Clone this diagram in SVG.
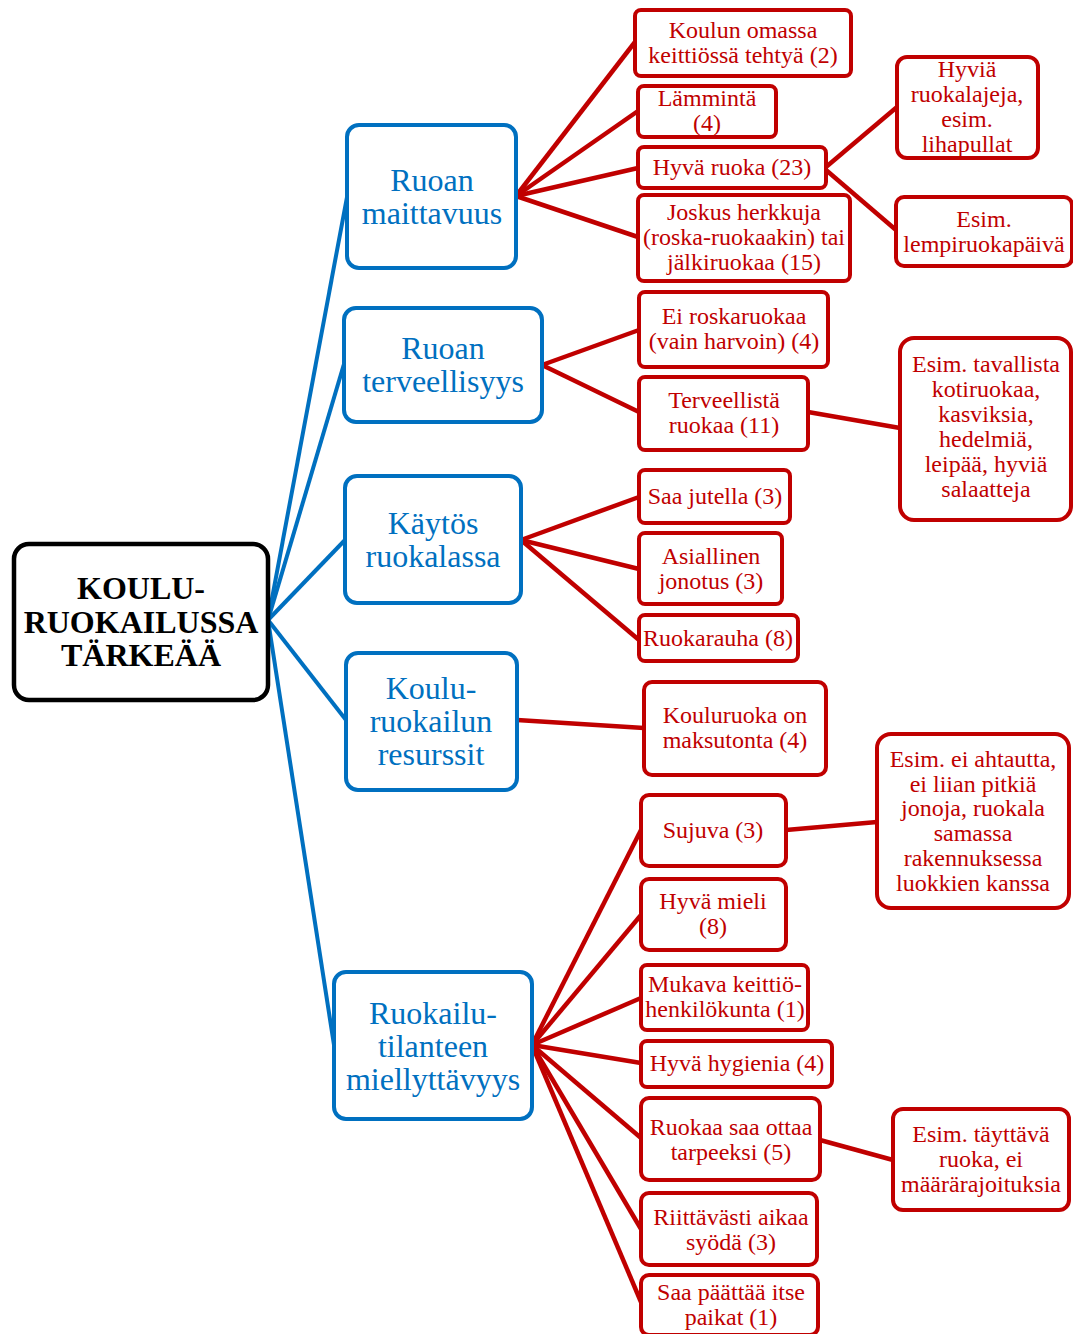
<svg xmlns="http://www.w3.org/2000/svg" width="1073" height="1334" viewBox="0 0 1073 1334">
<style>
.bg{fill:#fff}
.rb{fill:#fff;stroke:#000;stroke-width:4.5}
.bb{fill:#fff;stroke:#0070C0;stroke-width:4}
.cb{fill:#fff;stroke:#C00000;stroke-width:4}
.bl{stroke:#0070C0;stroke-width:4;fill:none}
.rl{stroke:#C00000;stroke-width:4.5;fill:none}
text{font-family:"Liberation Serif","Times New Roman",serif;text-anchor:middle}
.tr{font-size:32px;font-weight:bold;fill:#000}
.tb{font-size:32px;fill:#0070C0}
.tc{font-size:24px;fill:#C00000}
</style>
<rect class="bg" x="0" y="0" width="1073" height="1334"/>
<g id="connectors">
<line class="bl" x1="268" y1="620" x2="347" y2="197"/>
<line class="bl" x1="268" y1="620" x2="344" y2="364"/>
<line class="bl" x1="268" y1="620" x2="345" y2="540"/>
<line class="bl" x1="268" y1="620" x2="346" y2="720"/>
<line class="bl" x1="268" y1="620" x2="334" y2="1045"/>
<line class="rl" x1="516" y1="196" x2="635" y2="42"/>
<line class="rl" x1="516" y1="196" x2="638" y2="111"/>
<line class="rl" x1="516" y1="196" x2="638" y2="168"/>
<line class="rl" x1="516" y1="196" x2="638" y2="237"/>
<line class="rl" x1="826" y1="167" x2="897" y2="107"/>
<line class="rl" x1="826" y1="170" x2="896" y2="230"/>
<line class="rl" x1="542" y1="365" x2="639" y2="330"/>
<line class="rl" x1="542" y1="365" x2="639" y2="412"/>
<line class="rl" x1="808" y1="412" x2="900" y2="428"/>
<line class="rl" x1="521" y1="540" x2="639" y2="497"/>
<line class="rl" x1="521" y1="540" x2="639" y2="569"/>
<line class="rl" x1="521" y1="540" x2="639" y2="640"/>
<line class="rl" x1="517" y1="720" x2="644" y2="728"/>
<line class="rl" x1="532" y1="1045" x2="641" y2="830"/>
<line class="rl" x1="532" y1="1045" x2="641" y2="915"/>
<line class="rl" x1="532" y1="1045" x2="641" y2="998"/>
<line class="rl" x1="532" y1="1045" x2="641" y2="1063"/>
<line class="rl" x1="532" y1="1045" x2="641" y2="1138"/>
<line class="rl" x1="532" y1="1045" x2="641" y2="1229"/>
<line class="rl" x1="532" y1="1045" x2="641" y2="1302"/>
<line class="rl" x1="786" y1="830" x2="877" y2="822"/>
<line class="rl" x1="820" y1="1140" x2="893" y2="1160"/>
</g>
<g id="root">
<rect class="rb" x="14" y="544" width="254" height="156" rx="15"/>
<text class="tr" x="141" y="599">KOULU-</text>
<text class="tr" x="141" y="633">RUOKAILUSSA</text>
<text class="tr" x="141" y="666">TÄRKEÄÄ</text>
</g>
<g id="maittavuus">
<rect class="bb" x="347" y="125" width="169" height="143" rx="12"/>
<text class="tb" x="432" y="191">Ruoan</text>
<text class="tb" x="432" y="224">maittavuus</text>
</g>
<g id="terveellisyys">
<rect class="bb" x="344" y="308" width="198" height="114" rx="12"/>
<text class="tb" x="443" y="359">Ruoan</text>
<text class="tb" x="443" y="392">terveellisyys</text>
</g>
<g id="kaytos">
<rect class="bb" x="345" y="476" width="176" height="127" rx="12"/>
<text class="tb" x="433" y="534">Käytös</text>
<text class="tb" x="433" y="567">ruokalassa</text>
</g>
<g id="resurssit">
<rect class="bb" x="346" y="653" width="171" height="137" rx="12"/>
<text class="tb" x="431" y="699">Koulu-</text>
<text class="tb" x="431" y="732">ruokailun</text>
<text class="tb" x="431" y="765">resurssit</text>
</g>
<g id="miellyttavyys">
<rect class="bb" x="334" y="972" width="198" height="147" rx="12"/>
<text class="tb" x="433" y="1024">Ruokailu-</text>
<text class="tb" x="433" y="1057">tilanteen</text>
<text class="tb" x="433" y="1090">miellyttävyys</text>
</g>
<g id="koulun-omassa">
<rect class="cb" x="635" y="10" width="216" height="66" rx="6"/>
<text class="tc" x="743" y="38">Koulun omassa</text>
<text class="tc" x="743" y="63">keittiössä tehtyä (2)</text>
</g>
<g id="lammintä">
<rect class="cb" x="638" y="86" width="138" height="51" rx="6"/>
<text class="tc" x="707" y="106">Lämmintä</text>
<text class="tc" x="707" y="131">(4)</text>
</g>
<g id="hyva-ruoka">
<rect class="cb" x="638" y="147" width="188" height="41" rx="6"/>
<text class="tc" x="732" y="175">Hyvä ruoka (23)</text>
</g>
<g id="joskus">
<rect class="cb" x="638" y="195" width="212" height="86" rx="6"/>
<text class="tc" x="744" y="220">Joskus herkkuja</text>
<text class="tc" x="744" y="245">(roska-ruokaakin) tai</text>
<text class="tc" x="744" y="270">jälkiruokaa (15)</text>
</g>
<g id="hyvia-ruokalajeja">
<rect class="cb" x="897" y="57" width="141" height="101" rx="10"/>
<text class="tc" x="967" y="77">Hyviä</text>
<text class="tc" x="967" y="102">ruokalajeja,</text>
<text class="tc" x="967" y="127">esim.</text>
<text class="tc" x="967" y="152">lihapullat</text>
</g>
<g id="lempiruokapaiva">
<rect class="cb" x="896" y="197" width="176" height="69" rx="8"/>
<text class="tc" x="984" y="227">Esim.</text>
<text class="tc" x="984" y="252">lempiruokapäivä</text>
</g>
<g id="ei-roskaruokaa">
<rect class="cb" x="639" y="292" width="189" height="75" rx="6"/>
<text class="tc" x="734" y="324">Ei roskaruokaa</text>
<text class="tc" x="734" y="349">(vain harvoin) (4)</text>
</g>
<g id="terveellista">
<rect class="cb" x="639" y="377" width="169" height="73" rx="6"/>
<text class="tc" x="724" y="408">Terveellistä</text>
<text class="tc" x="724" y="433">ruokaa (11)</text>
</g>
<g id="esim-tavallista">
<rect class="cb" x="900" y="338" width="171" height="182" rx="14"/>
<text class="tc" x="986" y="372">Esim. tavallista</text>
<text class="tc" x="986" y="397">kotiruokaa,</text>
<text class="tc" x="986" y="422">kasviksia,</text>
<text class="tc" x="986" y="447">hedelmiä,</text>
<text class="tc" x="986" y="472">leipää, hyviä</text>
<text class="tc" x="986" y="497">salaatteja</text>
</g>
<g id="saa-jutella">
<rect class="cb" x="639" y="470" width="151" height="53" rx="6"/>
<text class="tc" x="715" y="504">Saa jutella (3)</text>
</g>
<g id="asiallinen">
<rect class="cb" x="639" y="533" width="143" height="71" rx="6"/>
<text class="tc" x="711" y="564">Asiallinen</text>
<text class="tc" x="711" y="589">jonotus (3)</text>
</g>
<g id="ruokarauha">
<rect class="cb" x="639" y="615" width="159" height="46" rx="6"/>
<text class="tc" x="718" y="646">Ruokarauha (8)</text>
</g>
<g id="maksutonta">
<rect class="cb" x="644" y="682" width="182" height="93" rx="8"/>
<text class="tc" x="735" y="723">Kouluruoka on</text>
<text class="tc" x="735" y="748">maksutonta (4)</text>
</g>
<g id="sujuva">
<rect class="cb" x="641" y="795" width="145" height="71" rx="8"/>
<text class="tc" x="713" y="838">Sujuva (3)</text>
</g>
<g id="ei-ahtautta">
<rect class="cb" x="877" y="734" width="192" height="174" rx="14"/>
<text class="tc" x="973" y="767">Esim. ei ahtautta,</text>
<text class="tc" x="973" y="792">ei liian pitkiä</text>
<text class="tc" x="973" y="816">jonoja, ruokala</text>
<text class="tc" x="973" y="841">samassa</text>
<text class="tc" x="973" y="866">rakennuksessa</text>
<text class="tc" x="973" y="891">luokkien kanssa</text>
</g>
<g id="hyva-mieli">
<rect class="cb" x="641" y="879" width="145" height="71" rx="8"/>
<text class="tc" x="713" y="909">Hyvä mieli</text>
<text class="tc" x="713" y="934">(8)</text>
</g>
<g id="mukava">
<rect class="cb" x="641" y="965" width="167" height="65" rx="6"/>
<text class="tc" x="725" y="992">Mukava keittiö-</text>
<text class="tc" x="725" y="1017">henkilökunta (1)</text>
</g>
<g id="hygienia">
<rect class="cb" x="641" y="1041" width="191" height="46" rx="6"/>
<text class="tc" x="737" y="1071">Hyvä hygienia (4)</text>
</g>
<g id="tarpeeksi">
<rect class="cb" x="641" y="1098" width="179" height="82" rx="8"/>
<text class="tc" x="731" y="1135">Ruokaa saa ottaa</text>
<text class="tc" x="731" y="1160">tarpeeksi (5)</text>
</g>
<g id="taayttava">
<rect class="cb" x="893" y="1109" width="176" height="101" rx="10"/>
<text class="tc" x="981" y="1142">Esim. täyttävä</text>
<text class="tc" x="981" y="1167">ruoka, ei</text>
<text class="tc" x="981" y="1192">määrärajoituksia</text>
</g>
<g id="riittavasti">
<rect class="cb" x="641" y="1193" width="176" height="72" rx="8"/>
<text class="tc" x="731" y="1225">Riittävästi aikaa</text>
<text class="tc" x="731" y="1250">syödä (3)</text>
</g>
<g id="paikat">
<rect class="cb" x="641" y="1275" width="177" height="60" rx="8"/>
<text class="tc" x="731" y="1300">Saa päättää itse</text>
<text class="tc" x="731" y="1325">paikat (1)</text>
</g>
</svg>
